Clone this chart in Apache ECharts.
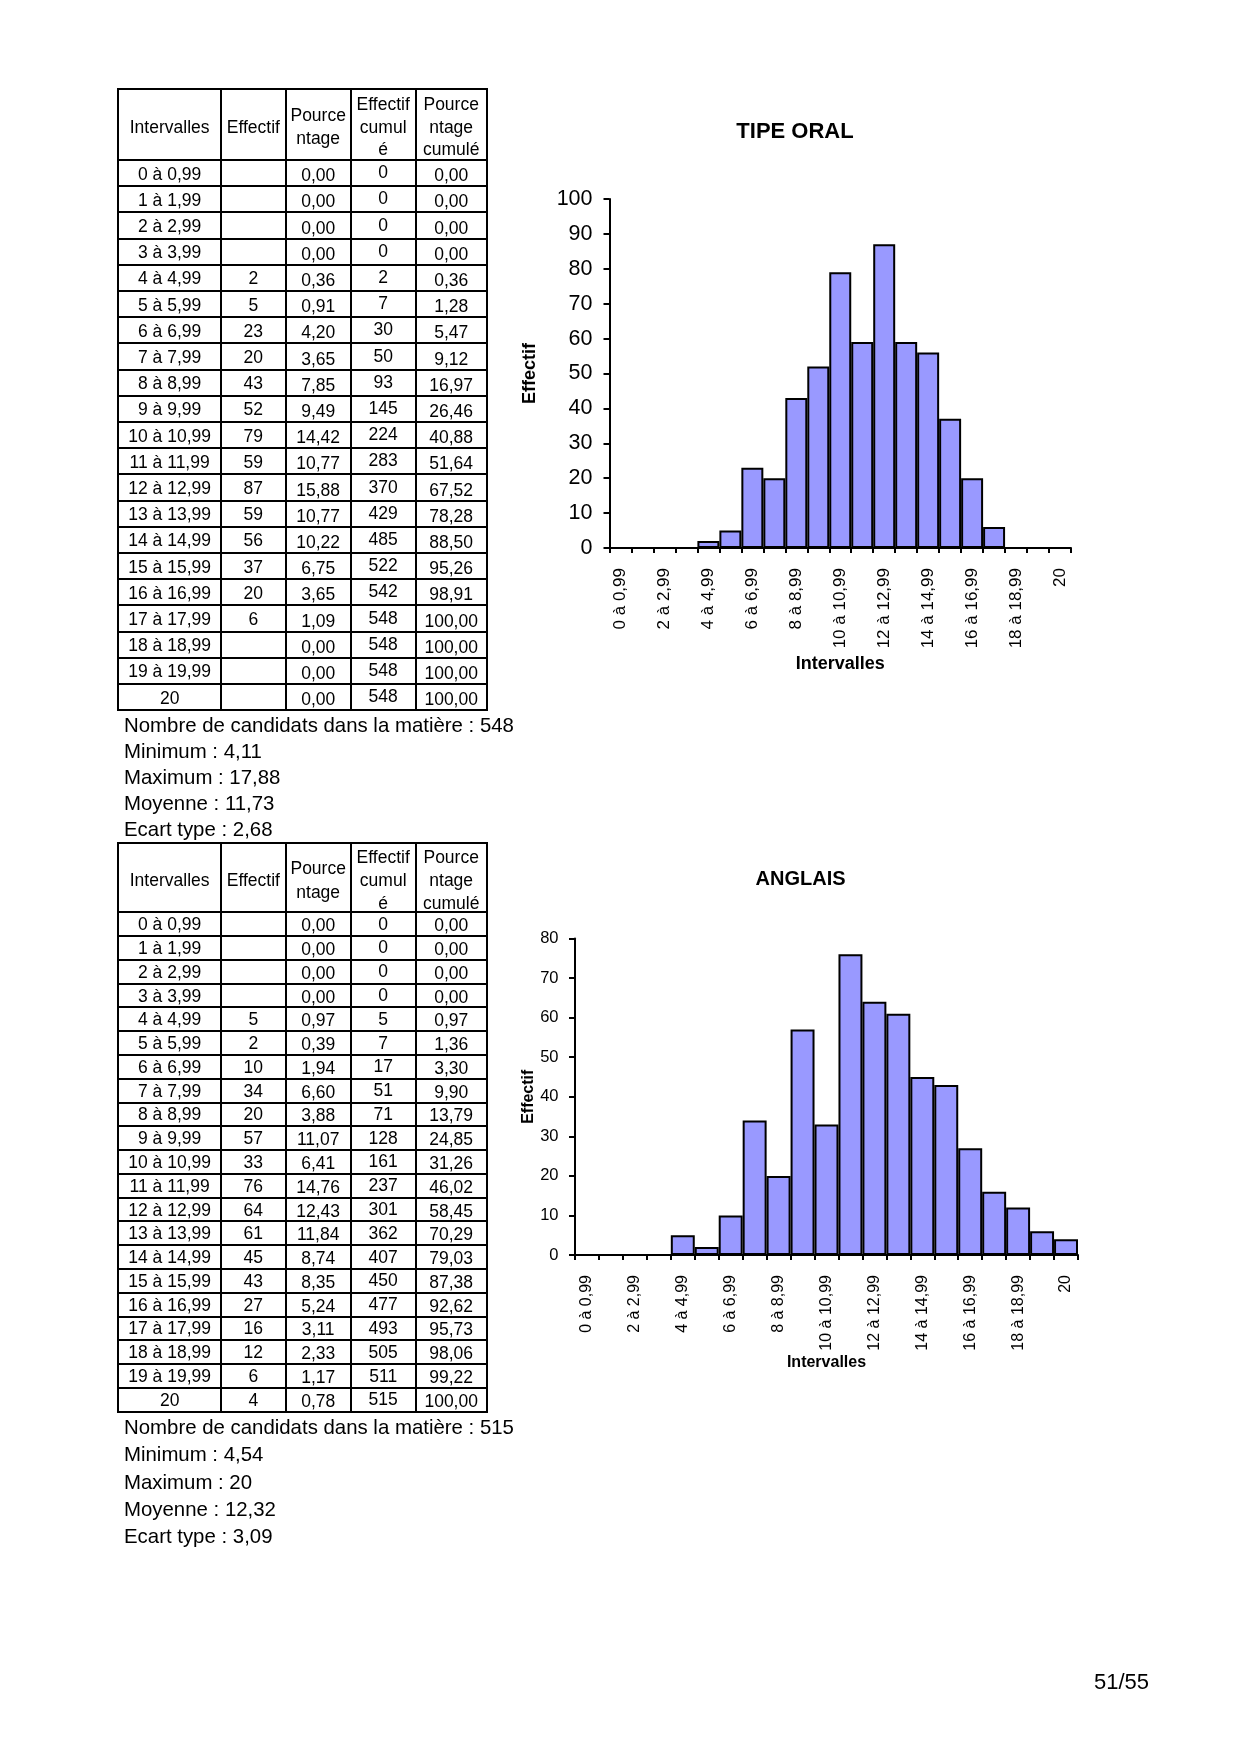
<!DOCTYPE html>
<html>
<head>
<meta charset="utf-8">
<script src="https://cdn.jsdelivr.net/npm/echarts@6/dist/echarts.min.js"></script>
<style>
html,body{margin:0;padding:0;background:#fff;}
#page{position:relative;width:1240px;height:1754px;font-family:"Liberation Sans",Arial,sans-serif;color:#000;overflow:hidden;}
#chart{position:absolute;left:0;top:0;width:1240px;height:1754px;}
.ln{position:absolute;background:#000;}
.tx{position:absolute;text-align:center;white-space:nowrap;font-size:17.5px;line-height:20px;}
.st{position:absolute;white-space:nowrap;font-size:20.4px;line-height:24px;}
</style>
</head>
<body>
<div id="page">
  <div id="chart"></div>
</div>
<script>
// ---------- DATA ----------
const categories = ["0 à 0,99","1 à 1,99","2 à 2,99","3 à 3,99","4 à 4,99","5 à 5,99","6 à 6,99","7 à 7,99","8 à 8,99","9 à 9,99","10 à 10,99","11 à 11,99","12 à 12,99","13 à 13,99","14 à 14,99","15 à 15,99","16 à 16,99","17 à 17,99","18 à 18,99","19 à 19,99","20"];

const tableHeaders = [["Intervalles"],["Effectif"],["Pource","ntage"],["Effectif","cumul","é"],["Pource","ntage","cumulé"]];

const tipeEffectif = [null,null,null,null,2,5,23,20,43,52,79,59,87,59,56,37,20,6,null,null,null];
const tipePourcentage = [0,0,0,0,0.36,0.91,4.20,3.65,7.85,9.49,14.42,10.77,15.88,10.77,10.22,6.75,3.65,1.09,0,0,0];
const tipeCumul = [0,0,0,0,2,7,30,50,93,145,224,283,370,429,485,522,542,548,548,548,548];
const tipePctCumul = [0,0,0,0,0.36,1.28,5.47,9.12,16.97,26.46,40.88,51.64,67.52,78.28,88.50,95.26,98.91,100,100,100,100];
const tipeStats = ["Nombre de candidats dans la matière : 548","Minimum : 4,11","Maximum : 17,88","Moyenne : 11,73","Ecart type : 2,68"];

const anglaisEffectif = [null,null,null,null,5,2,10,34,20,57,33,76,64,61,45,43,27,16,12,6,4];
const anglaisPourcentage = [0,0,0,0,0.97,0.39,1.94,6.60,3.88,11.07,6.41,14.76,12.43,11.84,8.74,8.35,5.24,3.11,2.33,1.17,0.78];
const anglaisCumul = [0,0,0,0,5,7,17,51,71,128,161,237,301,362,407,450,477,493,505,511,515];
const anglaisPctCumul = [0,0,0,0,0.97,1.36,3.30,9.90,13.79,24.85,31.26,46.02,58.45,70.29,79.03,87.38,92.62,95.73,98.06,99.22,100];
const anglaisStats = ["Nombre de candidats dans la matière : 515","Minimum : 4,54","Maximum : 20","Moyenne : 12,32","Ecart type : 3,09"];

const tipeYTicks = {min:0, max:100, interval:10};
const anglaisYTicks = {min:0, max:80, interval:10};

// ---------- TABLES (HTML) ----------
const page = document.getElementById('page');
const colX = [118.3, 221, 285.7, 350.7, 415.7, 486.7];
const fmt = v => v.toFixed(2).replace('.', ',');

function addDiv(cls, l, t, w, h, text, extra) {
  const d = document.createElement('div');
  d.className = cls;
  d.style.left = l + 'px'; d.style.top = t + 'px';
  if (w != null) d.style.width = w + 'px';
  if (h != null) d.style.height = h + 'px';
  if (text != null) d.textContent = text;
  if (extra) Object.assign(d.style, extra);
  page.appendChild(d);
  return d;
}

function buildTable(top, headerBottom, rowH, headerCenter, headerLine, offsets, eff, pct, cum, pctc, stats, statsTop, statsStep) {
  const n = categories.length;
  const bottom = headerBottom + rowH * n;
  const lw = 2;
  colX.forEach(x => addDiv('ln', x - lw/2, top - lw/2, lw, bottom - top + lw));
  const ys = [top, headerBottom];
  for (let i = 1; i <= n; i++) ys.push(headerBottom + rowH * i);
  ys.forEach(y => addDiv('ln', colX[0] - lw/2, y - lw/2, colX[5] - colX[0] + lw, lw));
  tableHeaders.forEach((lines, c) => {
    const w = colX[c+1] - colX[c];
    lines.forEach((t, k) => {
      const cy = headerCenter + (k - (lines.length - 1) / 2) * headerLine;
      addDiv('tx', colX[c], cy - 10, w, 20, t);
    });
  });
  for (let i = 0; i < n; i++) {
    const cy = headerBottom + rowH * (i + 0.5);
    const vals = [categories[i], eff[i] == null ? '' : String(eff[i]), fmt(pct[i]), String(cum[i]), fmt(pctc[i])];
    vals.forEach((t, c) => {
      const w = colX[c+1] - colX[c];
      addDiv('tx', colX[c], cy - 10 + offsets[c], w, 20, t);
    });
  }
  stats.forEach((s, k) => addDiv('st', 124, statsTop + k * statsStep - 12, null, 24, s));
}

buildTable(89, 160, 26.2, 126.5, 22.5, [0.5,0.5,2,-1,2],
  tipeEffectif, tipePourcentage, tipeCumul, tipePctCumul, tipeStats, 724.5, 26.2);
buildTable(843.3, 912.3, 23.78, 880, 23.3, [0,0,1,-0.5,1],
  anglaisEffectif, anglaisPourcentage, anglaisCumul, anglaisPctCumul, anglaisStats, 1426.7, 27.4);

addDiv('st', 1094, 1670, null, 24, '51/55', {fontSize:'22px'});

// ---------- CHARTS ----------
const chart = echarts.init(document.getElementById('chart'), null, {renderer:'canvas'});
const FONT = '"Liberation Sans", Arial, sans-serif';
const black = '#000';

function xAxisCfg(gi, labelSize, labelMargin, nameSize, nameGap) {
  return {
    type:'category', gridIndex:gi, data:categories, boundaryGap:true,
    axisLine:{show:true, lineStyle:{color:black, width:2}},
    axisTick:{show:true, interval:0, length:5, lineStyle:{color:black, width:2}},
    axisLabel:{interval:1, rotate:90, fontSize:labelSize, margin:labelMargin, color:black, fontFamily:FONT},
    splitLine:{show:false},
    name:'Intervalles', nameLocation:'middle', nameGap:nameGap,
    nameTextStyle:{fontSize:nameSize, fontWeight:'bold', color:black, fontFamily:FONT}
  };
}
function yAxisCfg(gi, ticks, labelSize, labelMargin, nameSize, nameGap) {
  return {
    type:'value', gridIndex:gi, min:ticks.min, max:ticks.max, interval:ticks.interval,
    axisLine:{show:true, lineStyle:{color:black, width:2}},
    axisTick:{show:true, length:6, lineStyle:{color:black, width:2}},
    axisLabel:{fontSize:labelSize, margin:labelMargin, color:black, fontFamily:FONT},
    splitLine:{show:false},
    name:'Effectif', nameLocation:'middle', nameGap:nameGap,
    nameTextStyle:{fontSize:nameSize, fontWeight:'bold', color:black, fontFamily:FONT}
  };
}
function barSeries(i, data) {
  return {
    type:'bar', xAxisIndex:i, yAxisIndex:i, data:data,
    barCategoryGap:'0%', barGap:'0%',
    itemStyle:{color:'#9999FF', borderColor:black, borderWidth:2},
    emphasis:{disabled:true}
  };
}

chart.setOption({
  animation:false,
  textStyle:{fontFamily:FONT, color:black},
  title:[
    {text:'TIPE ORAL', left:795, top:121, textAlign:'center', padding:0,
     textStyle:{fontSize:22, fontWeight:'bold', color:black, fontFamily:FONT}},
    {text:'ANGLAIS', left:800.6, top:869, textAlign:'center', padding:0,
     textStyle:{fontSize:20, fontWeight:'bold', color:black, fontFamily:FONT}}
  ],
  grid:[
    {left:609.5, top:199, width:461.5, height:349, containLabel:false},
    {left:575, top:938.5, width:503, height:316.5, containLabel:false}
  ],
  xAxis:[xAxisCfg(0, 17, 20, 18, 107), xAxisCfg(1, 16, 20, 16, 96.5)],
  yAxis:[yAxisCfg(0, tipeYTicks, 21.5, 17, 18, 70.5), yAxisCfg(1, anglaisYTicks, 16.5, 16.5, 16, 38)],
  series:[barSeries(0, tipeEffectif), barSeries(1, anglaisEffectif)]
});
</script>
</body>
</html>
